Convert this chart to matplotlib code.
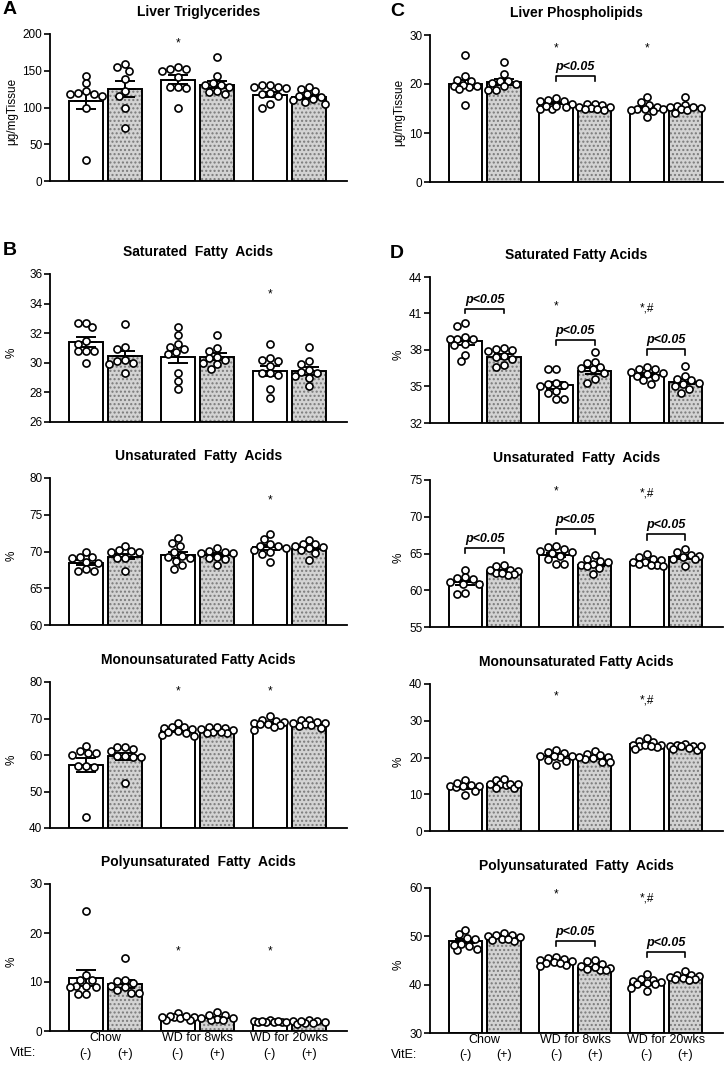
import numpy as np
import matplotlib
matplotlib.use('Agg')
import matplotlib.pyplot as plt
from matplotlib.transforms import blended_transform_factory

plt.rcParams['font.family'] = ['Liberation Sans', 'DejaVu Sans']
plt.rcParams['hatch.linewidth'] = 1.0

W, H = 726, 1065

groups = ['Chow', 'WD for 8wks', 'WD for 20wks']
vite = ['(-)', '(+)', '(-)', '(+)', '(-)', '(+)']
xpos = [0, 1, 2.36, 3.36, 4.72, 5.72]

# ---- data: individual animals per bar, bar heights ----
tg_pts = [[143, 133, 122, 116, 119, 119, 120, 100, 28],
          [155, 159, 150, 139, 123, 116, 100, 72],
          [149, 155, 153, 153, 141, 128, 127, 128, 100],
          [169, 143, 130, 134, 131, 122, 119, 121, 128],
          [130, 128, 127, 128, 130, 120, 118, 116, 105, 100],
          [125, 118, 122, 128, 114, 112, 110, 108, 105, 115]]
tg_mean = [109, 125, 137.5, 131, 117.5, 114.5]

pl_pts = [[25.9, 21.6, 20.9, 20.6, 19.6, 19.6, 19.4, 19.8, 18.9, 15.7],
          [24.4, 22.0, 20.7, 20.7, 20.2, 20.0, 19.6, 18.8, 18.8],
          [17.2, 16.8, 16.5, 16.6, 16.0, 15.4, 15.0, 15.0, 15.6, 15.5],
          [16.0, 15.9, 15.7, 15.4, 15.3, 15.1, 14.8, 14.6, 15.0],
          [17.4, 16.3, 15.8, 15.4, 15.0, 14.6, 14.4, 14.8, 13.2, 14.8],
          [17.3, 15.8, 15.6, 15.4, 15.2, 14.9, 14.6, 14.0, 15.4]]
pl_mean = [20.0, 20.4, 16.1, 15.1, 15.0, 15.3]

sfa_b_pts = [[32.7, 32.7, 32.4, 31.5, 31.3, 30.8, 30.8, 30.8, 30.0],
             [32.6, 31.1, 30.9, 30.1, 30.2, 29.9, 29.3, 30.0],
             [32.4, 31.9, 31.3, 30.9, 31.1, 30.7, 30.6, 29.3, 28.8, 28.2],
             [31.9, 31.0, 30.8, 30.4, 30.3, 30.2, 30.0, 29.9, 29.6],
             [31.3, 30.3, 30.2, 30.1, 29.8, 29.3, 29.3, 29.2, 28.2, 27.6],
             [31.1, 30.1, 29.9, 29.5, 29.4, 29.3, 29.1, 29.0, 28.4]]
sfa_b_mean = [31.4, 30.45, 30.4, 30.4, 29.45, 29.45]

ufa_b_pts = [[69.3, 69.1, 70.0, 68.6, 68.5, 69.2, 67.6, 67.3, 67.3],
             [70.0, 70.8, 70.1, 70.2, 69.9, 69.1, 69.1, 67.4],
             [71.8, 71.2, 70.7, 69.9, 69.4, 69.2, 69.1, 68.7, 68.1, 67.6],
             [70.5, 70.1, 69.8, 69.8, 70.0, 69.1, 69.3, 68.2, 69.0],
             [72.4, 71.7, 71.0, 70.8, 70.5, 70.8, 70.2, 69.9, 69.7, 68.6],
             [71.6, 71.0, 71.0, 70.8, 70.5, 70.6, 70.2, 69.8, 68.9]]
ufa_b_mean = [68.5, 69.3, 69.5, 69.5, 70.6, 70.4]

mufa_b_pts = [[62.5, 60.5, 60.0, 60.5, 61.0, 56.9, 56.7, 57.1, 42.9],
              [61.0, 62.2, 62.2, 61.6, 59.6, 59.5, 59.7, 52.3, 59.4],
              [68.9, 67.5, 67.6, 67.8, 67.2, 66.5, 66.0, 65.5, 65.3, 66.3],
              [67.8, 67.5, 67.2, 66.8, 66.4, 66.0, 66.0, 66.3, 67.8],
              [70.6, 69.6, 69.2, 69.0, 68.9, 68.6, 68.3, 67.8, 66.9, 68.4],
              [69.6, 69.7, 69.0, 68.8, 68.5, 68.3, 68.0, 67.3, 68.9]]
mufa_b_mean = [57.3, 59.6, 66.7, 66.6, 68.8, 68.6]

pufa_b_pts = [[24.4, 11.4, 10.4, 10.4, 9.2, 9.1, 9.0, 8.9, 7.5, 7.5],
              [15.0, 10.4, 10.2, 9.7, 9.2, 8.9, 8.3, 7.8, 7.8],
              [3.6, 2.9, 3.0, 2.7, 2.9, 2.2, 2.3, 3.0, 2.9],
              [3.9, 3.2, 2.7, 2.6, 2.4, 2.2, 2.3, 3.3],
              [2.2, 2.0, 1.9, 1.8, 1.8, 1.9, 1.9, 2.1, 2.0],
              [2.3, 2.0, 2.0, 1.9, 1.7, 1.6, 1.5, 2.0]]
pufa_b_mean = [10.8, 9.6, 2.7, 2.6, 1.8, 1.7]

sfa_d_pts = [[40.2, 40.0, 39.1, 38.9, 38.9, 38.9, 38.5, 38.4, 37.6, 37.1],
             [38.2, 38.0, 37.9, 38.1, 37.5, 37.3, 37.4, 36.8, 36.6],
             [36.4, 36.4, 35.2, 35.0, 35.1, 35.3, 34.5, 34.6, 34.0, 34.0],
             [37.8, 37.0, 36.9, 36.6, 36.4, 36.5, 36.1, 35.6, 35.3],
             [36.6, 36.4, 36.4, 36.2, 36.1, 36.0, 35.9, 35.8, 35.5, 35.2],
             [36.7, 35.9, 35.6, 35.5, 35.3, 35.2, 35.0, 34.8, 34.5]]
sfa_d_mean = [38.7, 37.45, 35.1, 36.3, 35.95, 35.4]

ufa_d_pts = [[62.8, 61.8, 61.6, 60.9, 60.9, 61.1, 59.5, 59.6, 61.5],
             [63.3, 63.4, 62.8, 62.6, 62.3, 62.2, 62.1, 62.4, 62.7],
             [66.0, 65.9, 65.6, 65.4, 65.2, 65.1, 64.7, 64.2, 63.6, 63.6],
             [64.8, 64.3, 64.0, 63.8, 63.6, 63.5, 63.3, 63.0, 62.2],
             [64.9, 64.5, 64.3, 64.1, 63.9, 63.8, 63.6, 63.4, 63.3, 63.5],
             [65.6, 65.2, 64.8, 64.7, 64.5, 64.3, 64.2, 63.3]]
ufa_d_mean = [61.1, 62.6, 64.8, 63.5, 63.9, 64.5]

mufa_d_pts = [[13.8, 12.3, 12.3, 12.5, 12.0, 11.0, 9.8, 13.0, 12.2],
              [14.0, 12.8, 12.6, 14.2, 12.9, 11.6, 11.8, 12.8, 12.8],
              [22.0, 21.3, 21.5, 20.4, 20.5, 20.2, 20.3, 19.2, 19.0, 18.0],
              [21.8, 20.7, 20.9, 20.2, 19.8, 19.7, 18.8, 18.7, 20.1],
              [25.3, 24.6, 24.1, 23.5, 23.2, 23.3, 23.5, 22.8, 22.4, 23.0],
              [23.5, 23.6, 23.2, 23.2, 23.0, 22.5, 22.3, 22.1, 23.0]]
mufa_d_mean = [11.9, 12.8, 20.3, 19.9, 23.6, 22.8]

pufa_d_pts = [[51.4, 50.5, 49.7, 49.4, 48.5, 47.9, 47.2, 47.4, 48.3],
              [50.6, 50.3, 50.2, 50.0, 49.8, 49.5, 49.3, 49.1, 49.4],
              [45.8, 45.5, 45.4, 45.1, 44.9, 44.6, 44.4, 44.0, 43.9, 44.5],
              [45.1, 44.9, 44.3, 43.8, 43.5, 43.3, 43.1, 43.0, 43.6],
              [42.2, 41.1, 41.0, 40.8, 40.6, 40.4, 40.2, 40.1, 39.3, 38.7],
              [42.8, 42.1, 41.9, 41.8, 41.6, 41.4, 41.2, 41.0, 41.1]]
pufa_d_mean = [49.0, 49.8, 44.7, 43.5, 40.3, 41.6]

# (bar index, y, text)
tg_stars = [(2, 187, '*')]
pl_stars = [(2, 27.3, '*'), (4, 27.3, '*')]
sfa_b_stars = [(4, 34.6, '*')]
ufa_b_stars = [(4, 77.0, '*')]
mufa_b_stars = [(2, 77.3, '*'), (4, 77.3, '*')]
pufa_b_stars = [(2, 16.2, '*'), (4, 16.2, '*')]
sfa_d_stars = [(2, 41.6, '*'), (4, 41.4, '*,#')]
ufa_d_stars = [(2, 73.5, '*'), (4, 73.2, '*,#')]
mufa_d_stars = [(2, 36.5, '*'), (4, 35.5, '*,#')]
pufa_d_stars = [(2, 58.6, '*'), (4, 57.8, '*,#')]

# (left bar, right bar, line y, tick-bottom y)
pl_brk = [(2, 3, 21.6, 20.7)]
sfa_d_brk = [(0, 1, 41.4, 41.0), (2, 3, 38.85, 38.4), (4, 5, 38.1, 37.6)]
ufa_d_brk = [(0, 1, 65.8, 65.1), (2, 3, 68.4, 67.6), (4, 5, 67.6, 66.9)]
pufa_d_brk = [(2, 3, 49.0, 48.1), (4, 5, 46.7, 45.8)]

LEFT = (50, 347)
RIGHT = (430, 723)

panels = [
    # title, pts, mean, ylim, ticks, ylabel, cols, rows(px), stars, brackets, letter
    ('Liver Triglycerides', tg_pts, tg_mean, (0, 200), [0, 50, 100, 150, 200],
     '\u03bcg/mgTissue', LEFT, (34, 181), tg_stars, [], 'A'),
    ('Liver Phospholipids', pl_pts, pl_mean, (0, 30), [0, 10, 20, 30],
     '\u03bcg/mgTissue', RIGHT, (35, 182), pl_stars, pl_brk, 'C'),
    ('Saturated  Fatty  Acids', sfa_b_pts, sfa_b_mean, (26, 36), [26, 28, 30, 32, 34, 36],
     '%', LEFT, (274, 422), sfa_b_stars, [], 'B'),
    ('Saturated Fatty Acids', sfa_d_pts, sfa_d_mean, (32, 44), [32, 35, 38, 41, 44],
     '%', RIGHT, (277, 423), sfa_d_stars, sfa_d_brk, 'D'),
    ('Unsaturated  Fatty  Acids', ufa_b_pts, ufa_b_mean, (60, 80), [60, 65, 70, 75, 80],
     '%', LEFT, (478, 625), ufa_b_stars, [], None),
    ('Unsaturated  Fatty  Acids', ufa_d_pts, ufa_d_mean, (55, 75), [55, 60, 65, 70, 75],
     '%', RIGHT, (480, 627), ufa_d_stars, ufa_d_brk, None),
    ('Monounsaturated Fatty Acids', mufa_b_pts, mufa_b_mean, (40, 80), [40, 50, 60, 70, 80],
     '%', LEFT, (682, 828), mufa_b_stars, [], None),
    ('Monounsaturated Fatty Acids', mufa_d_pts, mufa_d_mean, (0, 40), [0, 10, 20, 30, 40],
     '%', RIGHT, (684, 831), mufa_d_stars, [], None),
    ('Polyunsaturated  Fatty  Acids', pufa_b_pts, pufa_b_mean, (0, 30), [0, 10, 20, 30],
     '%', LEFT, (884, 1031), pufa_b_stars, [], None),
    ('Polyunsaturated  Fatty  Acids', pufa_d_pts, pufa_d_mean, (30, 60), [30, 40, 50, 60],
     '%', RIGHT, (888, 1033), pufa_d_stars, pufa_d_brk, None),
]

XPX = 39.0  # pixels per x unit


def swarm(vals, ky, d=7.2, maxoff=16.0):
    # deterministic swarm kept inside the bar; overlaps allowed when crowded
    cands = np.linspace(-maxoff, maxoff, 17)
    cands = cands[np.argsort(np.abs(cands), kind='stable')]
    order = np.argsort(vals)[::-1]
    placed = []
    offs = np.zeros(len(vals))
    for i in order:
        y = vals[i] * ky
        best, bestd = 0.0, -1
        for c in cands:
            md = min([np.hypot(c - xo, y - yo) for xo, yo in placed] or [1e9])
            if md >= d:
                best = c
                break
            if md > bestd:
                best, bestd = c, md
        placed.append((best, y))
        offs[i] = best / XPX
    return offs


fig = plt.figure(figsize=(W / 100, H / 100), dpi=100)

for (title, pts, mean, ylim, ticks, ylab, cols, rows, stars, brks, letter) in panels:
    l, r = cols
    t, b = rows
    ax = fig.add_axes([l / W, 1 - b / H, (r - l) / W, (b - t) / H])
    ky = (b - t) / (ylim[1] - ylim[0])

    for i in range(6):
        x = xpos[i]
        if i % 2:
            ax.bar(x, mean[i] - ylim[0], bottom=ylim[0], width=0.87, color='#d3d3d3',
                   edgecolor='#7a7a7a', hatch='....', linewidth=0, zorder=1)
        ax.bar(x, mean[i] - ylim[0], bottom=ylim[0], width=0.87, fill=(i % 2 == 0),
               facecolor='white', edgecolor='black', linewidth=1.4, zorder=2)
        v = np.array(pts[i], dtype=float)
        sem = v.std(ddof=1) / np.sqrt(len(v))
        ax.errorbar(x, mean[i], yerr=sem, color='black', lw=1.4, capsize=7,
                    capthick=1.4, zorder=3)
        ax.plot([x - 0.27, x + 0.27], [mean[i], mean[i]], color='black', lw=1.4, zorder=3)
        ax.scatter(x + swarm(v, ky), v, s=26, facecolor='white', edgecolor='black',
                   linewidth=1.2, zorder=4, clip_on=False)

    for i, y, txt in stars:
        ax.text(xpos[i], y, txt, ha='center', va='center', fontsize=8.5)

    for i, j, yl, yb in brks:
        ax.plot([xpos[i], xpos[i], xpos[j], xpos[j]], [yb, yl, yl, yb], color='black',
                lw=1.2, zorder=3)
        ax.text((xpos[i] + xpos[j]) / 2, yl + (ylim[1] - ylim[0]) * 0.02, 'p<0.05',
                ha='center', va='bottom', fontsize=9, fontweight='bold', style='italic')

    ax.set_xlim(-0.92, 6.7)
    ax.set_ylim(*ylim)
    ax.set_yticks(ticks)
    ax.set_xticks([])
    for s in ('top', 'right'):
        ax.spines[s].set_visible(False)
    for s in ('left', 'bottom'):
        ax.spines[s].set_linewidth(1.3)
    ax.tick_params(axis='y', length=4, width=1.2, labelsize=8.5, pad=1.5)
    ax.set_ylabel(ylab, fontsize=8.5)
    ax.yaxis.set_label_coords(((18 if l == 50 else 405) - l) / (r - l), 0.47)

    fig.text((l + r) / 2 / W, 1 - (t - 22) / H, title, ha='center', va='center',
             fontsize=10, fontweight='bold')
    if letter:
        lx = 3 if l == 50 else 390
        fig.text(lx / W, 1 - (t - 24) / H, letter, ha='left', va='center',
                 fontsize=14, fontweight='bold')

    if b > 1000:
        tr = blended_transform_factory(ax.transData, ax.transAxes)
        for g in range(3):
            ax.text((xpos[2 * g] + xpos[2 * g + 1]) / 2, -0.05, groups[g], transform=tr,
                    ha='center', va='center', fontsize=9)
        for i in range(6):
            ax.text(xpos[i], -0.155, vite[i], transform=tr, ha='center', va='center',
                    fontsize=9)
        fig.text((10 if l == 50 else 391) / W, 1 - (b + 22) / H, 'VitE:', ha='left',
                 va='center', fontsize=9)

fig.savefig('out.png', dpi=100)
